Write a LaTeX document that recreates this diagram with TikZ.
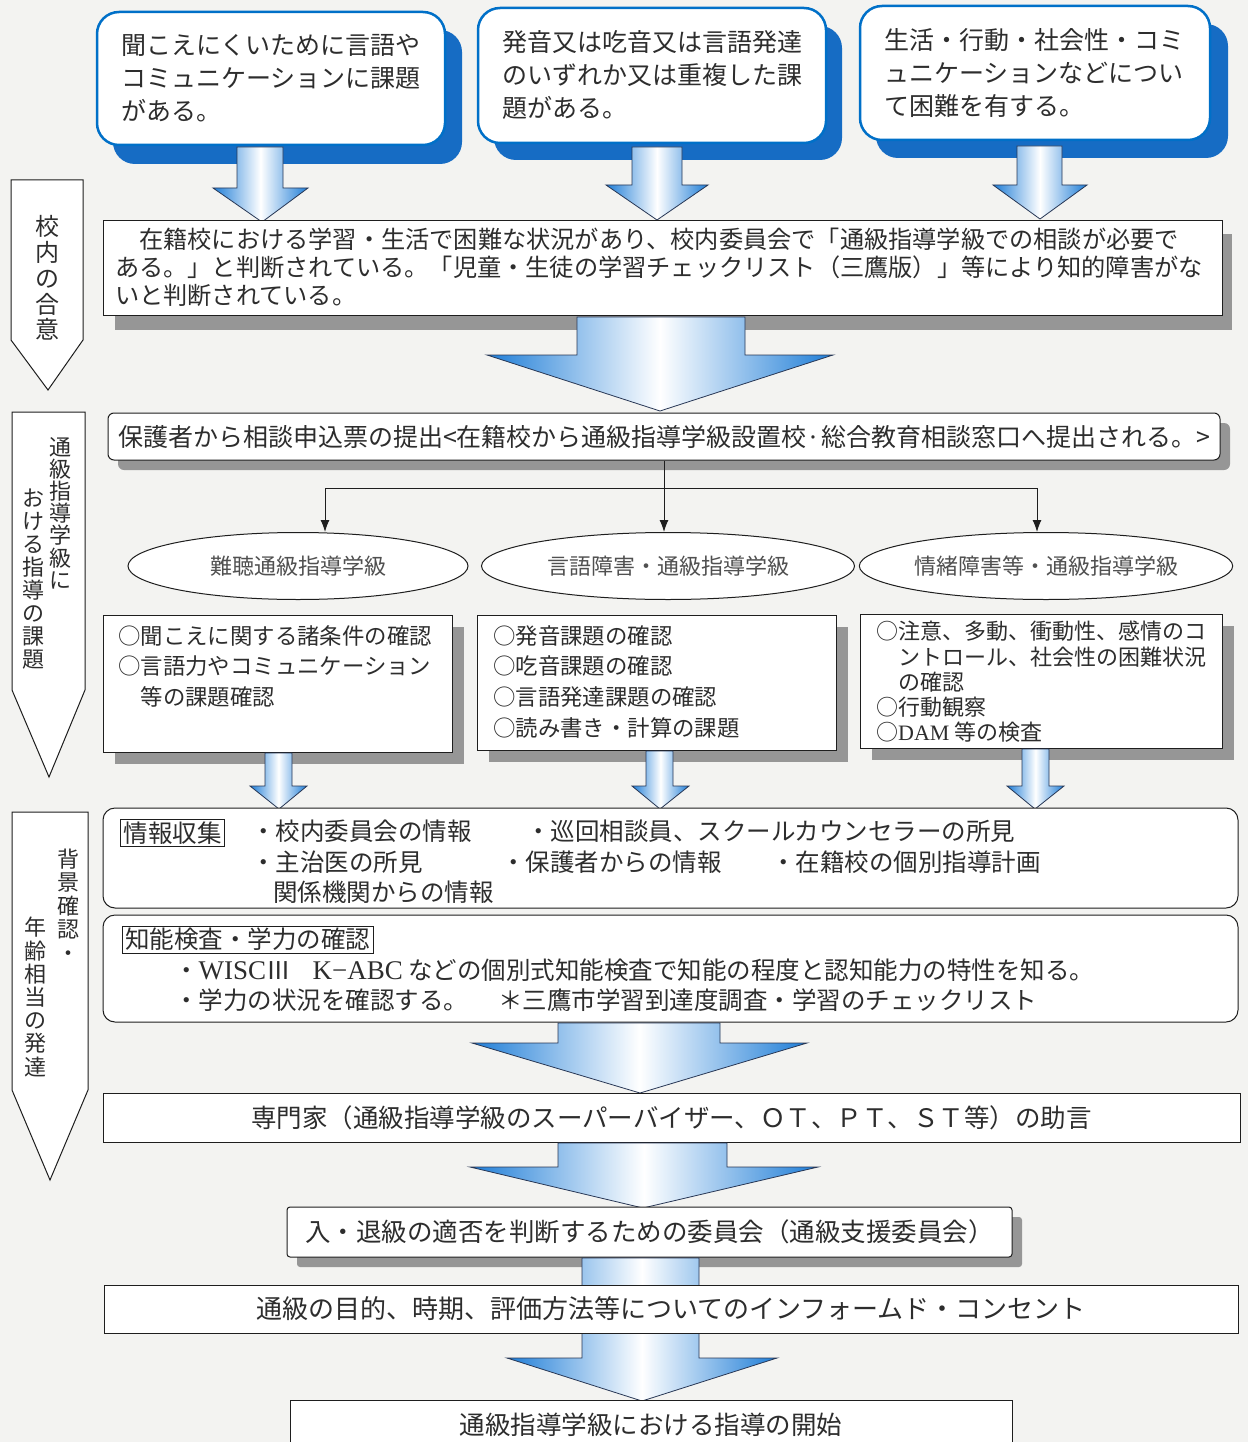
\documentclass[tikz,border=0pt]{standalone}
\usepackage{fontspec}
\setmainfont{Noto Sans CJK JP}
\newfontfamily\latinserif{Liberation Serif}
\usetikzlibrary{shapes.geometric,arrows.meta,calc}
\definecolor{bgc}{RGB}{243,243,241}
\definecolor{blueline}{RGB}{0,112,200}
\definecolor{blueshadow}{RGB}{22,108,196}
\definecolor{shadowgray}{RGB}{150,150,150}
\definecolor{linec}{RGB}{30,30,30}
\definecolor{txt}{RGB}{45,45,45}
\definecolor{ellt}{RGB}{80,80,80}
\definecolor{ablue}{RGB}{30,125,215}
\definecolor{arrline}{RGB}{40,55,85}
\newcommand\fsz[2]{\fontsize{#1}{#2}\selectfont}
\newcommand\lse{\latinserif\fontsize{27}{27}\selectfont}
\tikzset{
  topbox/.style={draw=blueline, line width=2.5pt, rounded corners=22pt, fill=white, align=left, inner xsep=24pt, text=txt, font={\fsz{25}{33}}},
  bshadow/.style={fill=blueshadow, rounded corners=22pt},
  gshadow/.style={fill=shadowgray},
  plainbox/.style={draw=linec, line width=1pt, fill=white, text=txt, inner sep=0pt},
  garr/.style={draw=arrline, line width=0.8pt, left color=ablue, right color=ablue, middle color=white},
  lab/.style={draw=linec, line width=1pt, fill=white},
  vtext/.style={align=center, inner sep=0pt, text=txt},
  txtn/.style={align=left, inner sep=0pt, text=txt},
  ell/.style={ellipse, draw=linec, line width=1pt, fill=white, inner sep=0pt, text=ellt, font={\fsz{22}{22}}},
  conn/.style={draw=linec, line width=1pt, -{Latex[length=12pt,width=9pt]}},
  labbox/.style={draw=linec, line width=0.8pt, fill=white, inner xsep=3pt, inner ysep=2pt, text=txt, font={\fsz{24.5}{24.5}}},
  item/.style={inner sep=0pt, text=txt, font={\fsz{24.5}{24.5}}},
}
\begin{document}
\begin{tikzpicture}[x=1pt,y=-1pt]
\useasboundingbox (0,0) rectangle (1248,1442);
\clip (0,0) rectangle (1248,1442);
\fill[bgc] (0,0) rectangle (1248,1442);

% top boxes
\fill[bshadow] (113,30) rectangle (462,164);
\fill[bshadow] (494,26) rectangle (842,160);
\fill[bshadow] (876,24) rectangle (1228,158);
\node[topbox, minimum width=348pt, minimum height=133pt, text width=300pt] (ta) at (271,78.5)
  {聞こえにくいために言語や\\コミュニケーションに課題\\がある。};
\node[topbox, minimum width=348pt, minimum height=135pt, text width=300pt] (tb) at (652,75.5)
  {発音又は吃音又は言語発達\\のいずれか又は重複した課\\題がある。};
\node[topbox, minimum width=350pt, minimum height=134pt, text width=302pt] (tc) at (1035,73)
  {生活・行動・社会性・コミ\\ュニケーションなどについ\\て困難を有する。};

% top arrows
\path[garr] (237,147) -- (283,147) -- (283,188) -- (308,188) -- (262,222) -- (213,188) -- (237,188) -- cycle;
\path[garr] (632,147) -- (682,147) -- (682,185) -- (708,185) -- (657,220) -- (606,185) -- (632,185) -- cycle;
\path[garr] (1017,146) -- (1062,146) -- (1062,185) -- (1087,185) -- (1040,219) -- (993,185) -- (1017,185) -- cycle;

% main box
\fill[gshadow] (115,234) rectangle (1232,330);
\node[plainbox, minimum width=1119pt, minimum height=95pt, text width=1095pt, inner xsep=12pt, align=left, font={\fsz{24.2}{28}}] (m1) at (662.5,267.5)
  {　在籍校における学習・生活で困難な状況があり、校内委員会で「通級指導学級での相談が必要で\\ある。」と判断されている。「児童・生徒の学習チェックリスト（三鷹版）」等により知的障害がな\\いと判断されている。};

% big arrow 1
\path[garr] (577,317) -- (745,317) -- (745,355) -- (833,355) -- (660,411) -- (487,355) -- (577,355) -- cycle;

% left labels
\path[lab] (11,180) -- (83,180) -- (83,340) -- (48,390) -- (11,340) -- cycle;
\node[vtext, font={\fsz{24}{25.8}}] (l1t) at (47,278) {校\\内\\の\\合\\意};
\path[lab] (12,412) -- (85,412) -- (85,690) -- (49,777) -- (12,690) -- cycle;
\node[vtext, font={\fsz{22}{22.2}}] (l2a) at (60,513) {通\\級\\指\\導\\学\\級\\に};
\node[vtext, font={\fsz{22}{23.1}}] (l2b) at (33,579) {お\\け\\る\\指\\導\\の\\課\\題};
\path[lab] (12,812) -- (88,812) -- (88,1090) -- (50,1180) -- (12,1090) -- cycle;
\node[vtext, font={\fsz{22}{23.5}}] (l3a) at (68,905) {背\\景\\確\\認\\・};
\node[vtext, font={\fsz{22}{23.2}}] (l3b) at (35,997) {年\\齢\\相\\当\\の\\発\\達};

% application box
\fill[gshadow, rounded corners=6pt] (118,423) rectangle (1230,470);
\node[plainbox, rounded corners=6pt, minimum width=1112pt, minimum height=47pt, font={\fsz{25}{25}}] (hogo) at (664,436.5)
  {保護者から相談申込票の提出<在籍校から通級指導学級設置校·総合教育相談窓口へ提出される。>};

% ellipses
\node[ell, minimum width=340pt, minimum height=67pt] (e1) at (298,566) {難聴通級指導学級};
\node[ell, minimum width=373pt, minimum height=67pt] (e2) at (668,566) {言語障害・通級指導学級};
\node[ell, minimum width=356pt, minimum height=67pt] (e3) at (1046,566) {情緒障害等・通級指導学級};

% connectors
\coordinate (j) at (664,488);
\coordinate (t1) at (325,532);
\coordinate (t3) at (1037,532);
\draw[conn] (hogo.south) -- (hogo.south |- e2.north);
\draw[conn] (j) -| (t1);
\draw[conn] (j) -| (t3);

% check boxes
\fill[gshadow] (115,627) rectangle (464,764);
\node[plainbox, minimum width=349pt, minimum height=137pt] (b1) at (277.5,683.5) {};
\node[txtn, anchor=north west, font={\fsz{22.4}{30.5}}] (b1t) at (118,625)
  {○聞こえに関する諸条件の確認\\○言語力やコミュニケーション\\　等の課題確認};
\fill[gshadow] (489,627) rectangle (848,762);
\node[plainbox, minimum width=359pt, minimum height=135pt] (b2) at (656.5,682.5) {};
\node[txtn, anchor=north west, font={\fsz{22.4}{30.7}}] (b2t) at (493,625)
  {○発音課題の確認\\○吃音課題の確認\\○言語発達課題の確認\\○読み書き・計算の課題};
\fill[gshadow] (872,626) rectangle (1234,760);
\node[plainbox, minimum width=362pt, minimum height=134pt] (b3) at (1041,681) {};
\node[txtn, anchor=north west, font={\fsz{22}{25.2}}] (b3t) at (876,621)
  {○注意、多動、衝動性、感情のコ\\　ントロール、社会性の困難状況\\　の確認\\○行動観察\\○{\latinserif DAM} 等の検査};

% small arrows
\path[garr] (265,753) -- (292,753) -- (292,786) -- (307,786) -- (279,809) -- (250,786) -- (265,786) -- cycle;
\path[garr] (646,751) -- (673,751) -- (673,786) -- (689,786) -- (660,809) -- (632,786) -- (646,786) -- cycle;
\path[garr] (1022,749) -- (1049,749) -- (1049,786) -- (1064,786) -- (1035,809) -- (1007,786) -- (1022,786) -- cycle;

% info box 1
\node[plainbox, rounded corners=12pt, minimum width=1135pt, minimum height=100pt] (inf1) at (670.5,858) {};
\node[labbox] (inf1l) at (172.5,833) {情報収集};
\node[item, anchor=west] (i1) at (251,831) {・校内委員会の情報};
\node[item, anchor=west] (i2) at (526,831) {・巡回相談員、スクールカウンセラーの所見};
\node[item, anchor=west] (i3) at (251,862) {・主治医の所見};
\node[item, anchor=west] (i4) at (501,862) {・保護者からの情報};
\node[item, anchor=west] (i5) at (771,862) {・在籍校の個別指導計画};
\node[item, anchor=west] (i6) at (273,892) {関係機関からの情報};

% info box 2
\node[plainbox, rounded corners=12pt, minimum width=1135pt, minimum height=107pt] (inf2) at (670.5,968.5) {};
\node[labbox] (inf2l) at (247.5,939.5) {知能検査・学力の確認};
\node[item, anchor=west] (i7) at (174,970) {・{\lse WISC}Ⅲ\hspace{22pt}{\lse K−ABC} などの個別式知能検査で知能の程度と認知能力の特性を知る。};
\node[item, anchor=west] (i8) at (174,1000) {・学力の状況を確認する。\hspace{30pt}＊三鷹市学習到達度調査・学習のチェックリスト};

% big arrow 2
\path[garr] (558,1023) -- (720,1023) -- (720,1043) -- (807,1043) -- (640,1093) -- (472,1043) -- (558,1043) -- cycle;
\node[plainbox, minimum width=1137pt, minimum height=49pt, font={\fsz{25.5}{25.5}}] (sp) at (671.5,1117.5)
  {専門家（通級指導学級のスーパーバイザー、ＯＴ、ＰＴ、ＳＴ等）の助言};

% big arrow 3
\path[garr] (558,1143) -- (727,1143) -- (727,1167) -- (818,1167) -- (643,1208) -- (470,1167) -- (558,1167) -- cycle;
\fill[gshadow, rounded corners=3pt] (297,1217) rectangle (1022,1267);
\node[plainbox, rounded corners=3pt, minimum width=725pt, minimum height=50pt, font={\fsz{25.5}{25.5}}] (iin) at (649.5,1232)
  {入・退級の適否を判断するための委員会（通級支援委員会）};

% arrow 4
\path[garr] (582,1258) -- (699,1258) -- (699,1358) -- (777,1358) -- (642,1401) -- (507,1358) -- (582,1358) -- cycle;
\node[plainbox, minimum width=1134pt, minimum height=48pt, font={\fsz{26}{26}}] (ic) at (671,1309)
  {通級の目的、時期、評価方法等についてのインフォームド・コンセント};
\node[plainbox, minimum width=722pt, minimum height=60pt, anchor=north] (st) at (651,1400) {};
\node[item, font={\fsz{25.5}{25.5}}] (stt) at (651,1425) {通級指導学級における指導の開始};
\end{tikzpicture}
\end{document}
